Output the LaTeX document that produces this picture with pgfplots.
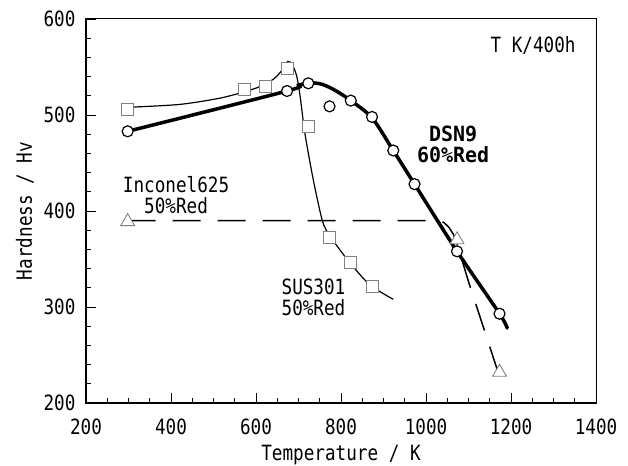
\documentclass[border=0pt]{standalone}
\usepackage{pgfplots}
\pgfplotsset{compat=1.18}
\usepackage{fontspec}
\setmainfont{DejaVu Sans Mono}[FakeStretch=0.84]
\newfontfamily\bfmono{DejaVu Sans Mono}[FakeStretch=0.95]
\usetikzlibrary{calc}
\begin{document}
\begin{tikzpicture}[font=\fontsize{21}{21}\selectfont]
\begin{axis}[scale only axis, width=510pt, height=384pt,
  xmin=200, xmax=1400, ymin=200, ymax=600,
  xtick={200,400,...,1400}, ytick={200,300,...,600},
  minor x tick num=3, minor y tick num=4,
  tick align=inside, xtick pos=bottom, ytick pos=left,
  major tick length=10pt, minor tick length=5pt,
  every tick/.style={black, line width=0.8pt},
  axis line style={line width=1pt},
  /pgf/number format/assume math mode=true,
  /pgf/number format/1000 sep={},
  xticklabel style={yshift=-12pt},
  yticklabel style={xshift=-7pt},
  xlabel={Temperature / K}, ylabel={Hardness / Hv},
  xlabel style={at={(axis description cs:0.5,-0.151)}, anchor=base},
  ylabel style={at={(axis description cs:-0.106,0.5)}, anchor=base},
  clip=false]
% DSN9 60%Red fitted curve
\addplot[black, line width=3.5pt, line cap=round, smooth, tension=0.5] coordinates {
 (298,483) (673,525) (700,531) (728,533.5) (755,532) (785,526) (823,515) (873,497) (923,463) (973,428) (1073,358) (1173,293) (1191,278)};
% SUS301 fitted curve
\addplot[black, line width=1.2pt, smooth, tension=0.45] coordinates {
 (298,508) (420,511) (520,518) (600,528) (640,537) (660,546) (675,556) (686,552) (696,540) (704,519) (715,481) (735,432) (756,390) (772,375) (790,364) (821,346) (868,323) (923,308)};
% Inconel625 dashed
\addplot[black, line width=1.5pt, dash pattern=on 28pt off 17pt] coordinates {
 (298,390) (1030,390) (1042,388) (1054,383) (1064,376) (1073,366) (1101,325) (1180,218)};
% SUS301 data
\addplot[only marks, mark=square*, mark size=6pt, mark options={draw=gray, fill=white, line width=1pt}] coordinates {
 (298,506) (573,527) (623,530) (673,548) (723,488) (773,372) (823,346) (873,321)};
% Inconel data
\addplot[only marks, mark=triangle*, mark size=8pt, mark options={draw=gray, fill=white, line width=0.9pt}] coordinates {
 (298,389) (1073,370) (1173,232)};
% DSN9 data
\addplot[only marks, mark=*, mark size=5.5pt, mark options={draw=black, fill=white, line width=1.2pt}] coordinates {
 (298,483) (673,525) (723,533) (773,509) (823,515) (873,498) (923,463) (973,428) (1073,358) (1173,293)};
\node at (axis cs:1252,572) {T K/400h};
\node[align=center, font=\bfmono\bfseries\fontsize{21}{21}\selectfont] at (axis cs:1064,469) {DSN9\\60\%Red};
\node[align=center] at (axis cs:412,417) {Inconel625\\50\%Red};
\node[align=left, anchor=west] at (axis cs:652,310) {SUS301\\50\%Red};
\coordinate (sw) at (rel axis cs:0,0);
\coordinate (ne) at (rel axis cs:1,1);
\end{axis}
\draw[line width=1.8pt] (sw|-ne) -- (sw) -- (sw-|ne);
\pgfresetboundingbox
\path ($(sw)+(-86pt,-62pt)$) rectangle ($(ne)+(32pt,19pt)$);
\end{tikzpicture}
\end{document}
